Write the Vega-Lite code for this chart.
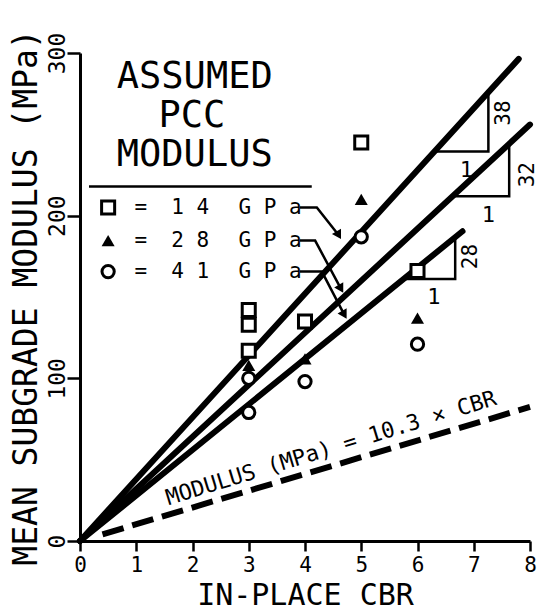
{
  "$schema": "https://vega.github.io/schema/vega-lite/v6.json",
  "autosize": {"type": "none"},
  "width": 450,
  "height": 488,
  "padding": {"left": 80, "top": 53, "right": 9, "bottom": 73},
  "background": "white",
  "config": {
    "view": {"stroke": null},
    "font": "DejaVu Sans Mono",
    "axis": {"grid": false, "domainColor": "black", "tickColor": "black", "labelColor": "black", "titleColor": "black", "labelFont": "DejaVu Sans Mono", "titleFont": "DejaVu Sans Mono", "titleFontWeight": "normal", "labelFlush": false, "labelOverlap": false}
  },
  "datasets": {
    "lines": [
      {"id": "f14", "role": "fit", "o": 0, "x": 0, "y": 0},
      {"id": "f14", "role": "fit", "o": 1, "x": 7.8, "y": 296.4},
      {"id": "f28", "role": "fit", "o": 0, "x": 0, "y": 0},
      {"id": "f28", "role": "fit", "o": 1, "x": 8.0, "y": 256},
      {"id": "f41", "role": "fit", "o": 0, "x": 0, "y": 0},
      {"id": "f41", "role": "fit", "o": 1, "x": 6.8, "y": 190.4},
      {"id": "cbr", "role": "cbr", "o": 0, "x": 0.4, "y": 4.1},
      {"id": "cbr", "role": "cbr", "o": 1, "x": 8.0, "y": 82.4},
      {"id": "t38", "role": "thin", "o": 0, "x": 6.3, "y": 239.5},
      {"id": "t38", "role": "thin", "o": 1, "x": 7.26, "y": 239.5},
      {"id": "t38", "role": "thin", "o": 2, "x": 7.26, "y": 276},
      {"id": "t32", "role": "thin", "o": 0, "x": 6.63, "y": 212},
      {"id": "t32", "role": "thin", "o": 1, "x": 7.63, "y": 212},
      {"id": "t32", "role": "thin", "o": 2, "x": 7.63, "y": 244},
      {"id": "t28", "role": "thin", "o": 0, "x": 5.74, "y": 161},
      {"id": "t28", "role": "thin", "o": 1, "x": 6.67, "y": 161},
      {"id": "t28", "role": "thin", "o": 2, "x": 6.67, "y": 187},
      {"id": "a14", "role": "thin", "o": 0, "x": 3.91, "y": 205},
      {"id": "a14", "role": "thin", "o": 1, "x": 4.21, "y": 205},
      {"id": "a14", "role": "thin", "o": 2, "x": 4.6, "y": 188},
      {"id": "a28", "role": "thin", "o": 0, "x": 3.91, "y": 184.7},
      {"id": "a28", "role": "thin", "o": 1, "x": 4.18, "y": 184.7},
      {"id": "a28", "role": "thin", "o": 2, "x": 4.64, "y": 155},
      {"id": "a41", "role": "thin", "o": 0, "x": 3.91, "y": 165.6},
      {"id": "a41", "role": "thin", "o": 1, "x": 4.3, "y": 165.6},
      {"id": "a41", "role": "thin", "o": 2, "x": 4.7, "y": 139},
      {"id": "rule", "role": "thin", "o": 0, "x": 0.16, "y": 217.9},
      {"id": "rule", "role": "thin", "o": 1, "x": 4.12, "y": 217.9}
    ],
    "heads": [
      {"x": 4.6, "y": 188},
      {"x": 4.64, "y": 155},
      {"x": 4.7, "y": 139}
    ],
    "points": [
      {"g": "14", "x": 3, "y": 142},
      {"g": "14", "x": 3, "y": 133},
      {"g": "14", "x": 3, "y": 117},
      {"g": "14", "x": 4, "y": 135},
      {"g": "14", "x": 5, "y": 245},
      {"g": "14", "x": 6, "y": 166},
      {"g": "14", "x": 0.5, "y": 205},
      {"g": "28", "x": 3, "y": 108},
      {"g": "28", "x": 4, "y": 112},
      {"g": "28", "x": 5, "y": 210},
      {"g": "28", "x": 6, "y": 137},
      {"g": "28", "x": 0.5, "y": 184.7},
      {"g": "41", "x": 3, "y": 100},
      {"g": "41", "x": 3, "y": 79},
      {"g": "41", "x": 4, "y": 98},
      {"g": "41", "x": 5, "y": 187},
      {"g": "41", "x": 6, "y": 121},
      {"g": "41", "x": 0.5, "y": 165.6}
    ],
    "texts": [
      {"role": "big", "x": 2.04, "y": 285.3, "label": "ASSUMED"},
      {"role": "big", "x": 1.99, "y": 261.4, "label": "PCC"},
      {"role": "big", "x": 2.04, "y": 237.4, "label": "MODULUS"},
      {"role": "leg", "x": 1.08, "y": 205, "label": "="},
      {"role": "leg", "x": 1.96, "y": 205, "label": "1 4"},
      {"role": "leg", "x": 3.38, "y": 205, "label": "G P a"},
      {"role": "leg", "x": 1.08, "y": 184.7, "label": "="},
      {"role": "leg", "x": 1.96, "y": 184.7, "label": "2 8"},
      {"role": "leg", "x": 3.38, "y": 184.7, "label": "G P a"},
      {"role": "leg", "x": 1.08, "y": 165.6, "label": "="},
      {"role": "leg", "x": 1.96, "y": 165.6, "label": "4 1"},
      {"role": "leg", "x": 3.38, "y": 165.6, "label": "G P a"},
      {"role": "slope", "x": 7.54, "y": 263.1, "label": "38"},
      {"role": "slope", "x": 7.96, "y": 225.2, "label": "32"},
      {"role": "slope", "x": 6.95, "y": 174.9, "label": "28"},
      {"role": "one", "x": 6.87, "y": 228.3, "label": "1"},
      {"role": "one", "x": 7.26, "y": 200.7, "label": "1"},
      {"role": "one", "x": 6.29, "y": 150.3, "label": "1"},
      {"role": "eq", "x": 4.5, "y": 53, "label": "MODULUS  (MPa)  =  10.3  ×  CBR"}
    ]
  },
  "layer": [
    {
      "data": {"name": "lines"},
      "transform": [{"filter": "datum.role == 'fit'"}],
      "mark": {"type": "line", "color": "black", "strokeWidth": 6, "strokeCap": "round"},
      "encoding": {
        "x": {"field": "x", "type": "quantitative", "scale": {"domain": [0, 8], "nice": false},
          "axis": {"title": "IN-PLACE CBR", "values": [0, 1, 2, 3, 4, 5, 6, 7, 8], "format": "d", "tickSize": 10, "tickWidth": 2.5, "domainWidth": 3, "labelFontSize": 21, "labelPadding": 3, "titleFontSize": 30, "titleY": 63, "titleBaseline": "alphabetic"}},
        "y": {"field": "y", "type": "quantitative", "scale": {"domain": [0, 300], "nice": false},
          "axis": {"title": "MEAN SUBGRADE MODULUS (MPa)", "values": [0, 100, 200, 300], "format": "d", "tickSize": 13, "tickWidth": 2.5, "domainWidth": 3, "labelFontSize": 23, "labelAngle": 270, "labelAlign": "center", "labelBaseline": "alphabetic", "labelPadding": 3, "titleFontSize": 33, "titleAngle": 270, "titleAlign": "center", "titleBaseline": "alphabetic", "titleX": -44, "titleY": 244}},
        "detail": {"field": "id"},
        "order": {"field": "o"}
      }
    },
    {
      "data": {"name": "lines"},
      "transform": [{"filter": "datum.role == 'cbr'"}],
      "mark": {"type": "line", "color": "black", "strokeWidth": 6, "strokeDash": [22, 9]},
      "encoding": {
        "x": {"field": "x", "type": "quantitative"},
        "y": {"field": "y", "type": "quantitative"},
        "detail": {"field": "id"},
        "order": {"field": "o"}
      }
    },
    {
      "data": {"name": "lines"},
      "transform": [{"filter": "datum.role == 'thin'"}],
      "mark": {"type": "line", "color": "black", "strokeWidth": 2.5},
      "encoding": {
        "x": {"field": "x", "type": "quantitative"},
        "y": {"field": "y", "type": "quantitative"},
        "detail": {"field": "id"},
        "order": {"field": "o"}
      }
    },
    {
      "data": {"name": "heads"},
      "mark": {"type": "point", "shape": "triangle-up", "filled": true, "color": "black", "size": 110, "angle": 150, "opacity": 1},
      "encoding": {
        "x": {"field": "x", "type": "quantitative"},
        "y": {"field": "y", "type": "quantitative"}
      }
    },
    {
      "data": {"name": "points"},
      "transform": [{"filter": "datum.g == '14'"}],
      "mark": {"type": "point", "shape": "square", "filled": false, "fill": "white", "fillOpacity": 1, "stroke": "black", "strokeWidth": 3, "size": 170, "opacity": 1},
      "encoding": {
        "x": {"field": "x", "type": "quantitative"},
        "y": {"field": "y", "type": "quantitative"}
      }
    },
    {
      "data": {"name": "points"},
      "transform": [{"filter": "datum.g == '28'"}],
      "mark": {"type": "point", "shape": "triangle-up", "filled": true, "color": "black", "size": 170, "opacity": 1},
      "encoding": {
        "x": {"field": "x", "type": "quantitative"},
        "y": {"field": "y", "type": "quantitative"}
      }
    },
    {
      "data": {"name": "points"},
      "transform": [{"filter": "datum.g == '41'"}],
      "mark": {"type": "point", "shape": "circle", "filled": false, "fill": "white", "fillOpacity": 1, "stroke": "black", "strokeWidth": 3, "size": 150, "opacity": 1},
      "encoding": {
        "x": {"field": "x", "type": "quantitative"},
        "y": {"field": "y", "type": "quantitative"}
      }
    },
    {
      "data": {"name": "texts"},
      "transform": [{"filter": "datum.role == 'big'"}],
      "mark": {"type": "text", "font": "DejaVu Sans Mono", "fontSize": 37, "align": "center", "baseline": "middle", "color": "black"},
      "encoding": {
        "x": {"field": "x", "type": "quantitative"},
        "y": {"field": "y", "type": "quantitative"},
        "text": {"field": "label"}
      }
    },
    {
      "data": {"name": "texts"},
      "transform": [{"filter": "datum.role == 'leg'"}],
      "mark": {"type": "text", "font": "DejaVu Sans Mono", "fontSize": 21, "align": "center", "baseline": "middle", "color": "black"},
      "encoding": {
        "x": {"field": "x", "type": "quantitative"},
        "y": {"field": "y", "type": "quantitative"},
        "text": {"field": "label"}
      }
    },
    {
      "data": {"name": "texts"},
      "transform": [{"filter": "datum.role == 'slope'"}],
      "mark": {"type": "text", "font": "DejaVu Sans Mono", "fontSize": 21, "align": "center", "baseline": "middle", "angle": 270, "color": "black"},
      "encoding": {
        "x": {"field": "x", "type": "quantitative"},
        "y": {"field": "y", "type": "quantitative"},
        "text": {"field": "label"}
      }
    },
    {
      "data": {"name": "texts"},
      "transform": [{"filter": "datum.role == 'one'"}],
      "mark": {"type": "text", "font": "DejaVu Sans Mono", "fontSize": 22, "align": "center", "baseline": "middle", "color": "black"},
      "encoding": {
        "x": {"field": "x", "type": "quantitative"},
        "y": {"field": "y", "type": "quantitative"},
        "text": {"field": "label"}
      }
    },
    {
      "data": {"name": "texts"},
      "transform": [{"filter": "datum.role == 'eq'"}],
      "mark": {"type": "text", "font": "DejaVu Sans Mono", "fontSize": 22, "align": "center", "baseline": "alphabetic", "angle": 343, "color": "black"},
      "encoding": {
        "x": {"field": "x", "type": "quantitative"},
        "y": {"field": "y", "type": "quantitative"},
        "text": {"field": "label"}
      }
    }
  ]
}
